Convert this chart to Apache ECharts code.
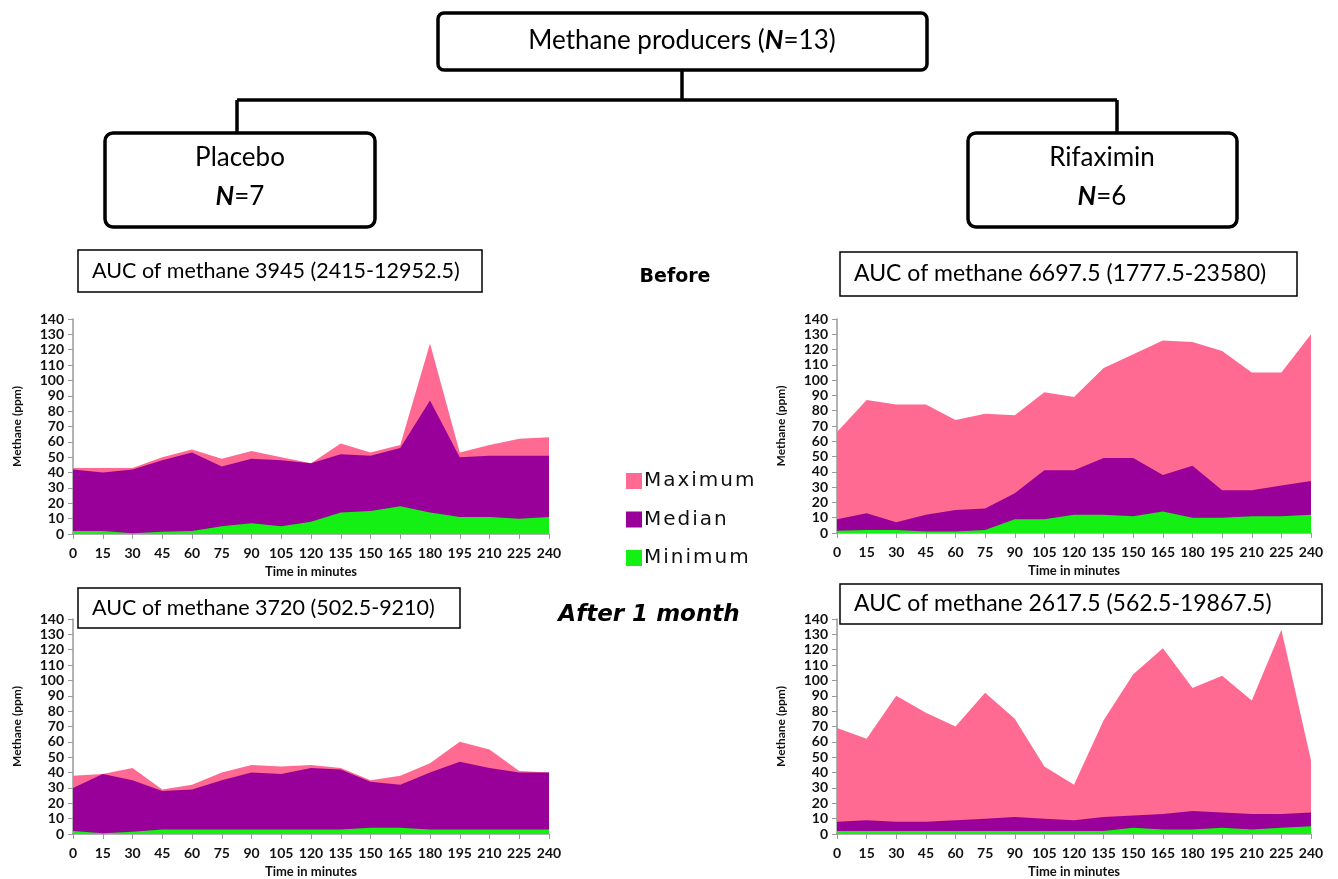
<!DOCTYPE html>
<html>
<head>
<meta charset="utf-8">
<script src="https://cdn.jsdelivr.net/npm/echarts@6/dist/echarts.min.js"></script>
<style>
  html, body { margin: 0; padding: 0; background: #fff; }
  #chart { width: 1338px; height: 879px; }
</style>
</head>
<body>
<div id="chart"></div>
<script>
// Sampling times (minutes) used as category ticks on every panel
const minutes = ['0','15','30','45','60','75','90','105','120','135','150','165','180','195','210','225','240'];

// Placebo, before treatment
const placeboBeforeMax    = [43, 43, 43, 50, 55, 49, 54, 50, 46, 59, 53, 58, 124, 53, 58, 62, 63];
const placeboBeforeMedian = [42, 40, 42, 48, 53, 44, 49, 48, 46, 52, 51, 56, 87, 50, 51, 51, 51];
const placeboBeforeMin    = [2, 2, 0.5, 1.5, 2, 5, 7, 5, 8, 14, 15, 18, 14, 11, 11, 10, 11];

// Rifaximin, before treatment
const rifaximinBeforeMax    = [66, 87, 84, 84, 74, 78, 77, 92, 89, 108, 117, 126, 125, 119, 105, 105, 130];
const rifaximinBeforeMedian = [9, 13, 7, 12, 15, 16, 26, 41, 41, 49, 49, 38, 44, 28, 28, 31, 34];
const rifaximinBeforeMin    = [1.5, 2, 2, 1, 1, 2, 9, 9, 12, 12, 11, 14, 10, 10, 11, 11, 12];

// Placebo, after 1 month
const placeboAfterMax    = [38, 39, 43, 29, 32, 40, 45, 44, 45, 43, 35, 38, 46, 60, 55, 41, 40];
const placeboAfterMedian = [30, 39, 35, 28, 29, 35, 40, 39, 43, 42, 34, 32, 40, 47, 43, 40, 40];
const placeboAfterMin    = [2, 0.5, 1.5, 3, 3, 3, 3, 3, 3, 3, 4, 4, 3, 3, 3, 3, 3];

// Rifaximin, after 1 month
const rifaximinAfterMax    = [69, 62, 90, 79, 70, 92, 75, 44, 32, 74, 104, 121, 95, 103, 87, 133, 48];
const rifaximinAfterMedian = [8, 9, 8, 8, 9, 10, 11, 10, 9, 11, 12, 13, 15, 14, 13, 13, 14];
const rifaximinAfterMin    = [2, 2, 2, 2, 2, 2, 2, 2, 2, 2, 4, 3, 3, 4, 3, 4, 5];

const seriesNames = ['Maximum', 'Median', 'Minimum'];
const aucLabels = [
  'AUC of methane 3945 (2415-12952.5)',
  'AUC of methane 6697.5 (1777.5-23580)',
  'AUC of methane 3720 (502.5-9210)',
  'AUC of methane 2617.5 (562.5-19867.5)'
];

const COLORS = { Maximum: '#ff6a93', Median: '#990099', Minimum: '#14f014' };
const FONT = 'Lato, "Open Sans", sans-serif';
const HAND = '"DejaVu Sans", sans-serif';

const panels = [
  { grid: { left: 73, top: 319, width: 476, height: 215 }, data: [placeboBeforeMax, placeboBeforeMedian, placeboBeforeMin] },
  { grid: { left: 837, top: 319, width: 474, height: 214 }, data: [rifaximinBeforeMax, rifaximinBeforeMedian, rifaximinBeforeMin] },
  { grid: { left: 73, top: 619, width: 476, height: 215 }, data: [placeboAfterMax, placeboAfterMedian, placeboAfterMin] },
  { grid: { left: 837, top: 619, width: 474, height: 215 }, data: [rifaximinAfterMax, rifaximinAfterMedian, rifaximinAfterMin] }
];

const axisLine = { show: true, lineStyle: { color: '#9a9a9a', width: 1.5 } };

const grids = [], xAxes = [], yAxes = [], series = [];
panels.forEach((p, i) => {
  grids.push(Object.assign({ containLabel: false }, p.grid));
  xAxes.push({
    type: 'category', gridIndex: i, data: minutes, boundaryGap: false,
    axisLine: axisLine,
    axisTick: { show: true, alignWithLabel: true, length: 5, lineStyle: { color: '#9a9a9a' } },
    axisLabel: { interval: 0, color: '#111', fontFamily: FONT, fontWeight: 'bold', fontSize: 14, margin: 12 },
    name: 'Time in minutes', nameLocation: 'middle', nameGap: 31,
    nameTextStyle: { color: '#111', fontFamily: FONT, fontWeight: 'bold', fontSize: 13 },
    splitLine: { show: false }
  });
  yAxes.push({
    type: 'value', gridIndex: i, min: 0, max: 140, interval: 10,
    axisLine: axisLine,
    axisTick: { show: true, length: 5, lineStyle: { color: '#9a9a9a' } },
    axisLabel: { color: '#111', fontFamily: FONT, fontWeight: 'bold', fontSize: 14, margin: 9, lineHeight: 14 },
    name: 'Methane (ppm)', nameLocation: 'middle', nameGap: 50, nameRotate: 90,
    nameTextStyle: { color: '#111', fontFamily: FONT, fontWeight: 'bold', fontSize: 12 },
    splitLine: { show: false }
  });
  p.data.forEach((vals, k) => {
    const name = seriesNames[k];
    series.push({
      name: name, type: 'line', xAxisIndex: i, yAxisIndex: i,
      data: vals, symbol: 'none', silent: true,
      lineStyle: { width: 0 },
      itemStyle: { color: COLORS[name] },
      areaStyle: { color: COLORS[name], opacity: 1 },
      z: 2 + k
    });
  });
});

// Flow diagram, panel captions and section labels
const box = (x, y, w, h, r, lw) => ({
  type: 'rect', shape: { x: x, y: y, width: w, height: h, r: r },
  style: { fill: '#fff', stroke: '#000', lineWidth: lw }, z: 10
});
const line = (x1, y1, x2, y2) => ({
  type: 'line', shape: { x1: x1, y1: y1, x2: x2, y2: y2 },
  style: { stroke: '#000', lineWidth: 3.5 }, z: 9
});
const text = (x, y, str, align, font) => ({
  type: 'text', x: x, y: y, z: 11,
  style: { text: str, fill: '#000', font: font || ('26px ' + FONT), align: align || 'center', verticalAlign: 'middle' }
});
const nLabel = (x, y, rest) => ({
  type: 'text', x: x, y: y, z: 11,
  style: {
    text: rest, align: 'center', verticalAlign: 'middle',
    rich: { n: { font: '26px ' + FONT, fill: '#000' }, i: { font: 'italic bold 26px ' + FONT, fill: '#000' } }
  }
});

const graphic = [
  line(682, 70, 682, 100),
  line(237, 100, 1117, 100),
  line(237, 100, 237, 133),
  line(1117, 100, 1117, 133),
  box(438, 13, 489, 57, 6, 3.5),
  box(105, 133, 270, 94, 8, 3.5),
  box(968, 133, 269, 94, 8, 3.5),
  nLabel(682, 41, '{n|Methane producers (}{i|N}{n|=13)}'),
  text(240, 158, 'Placebo'),
  nLabel(240, 197, '{i|N}{n|=7}'),
  text(1102, 158, 'Rifaximin'),
  nLabel(1102, 197, '{i|N}{n|=6}'),
  // AUC captions
  box(78, 250, 404, 42, 0, 1.5),
  text(92, 271, aucLabels[0], 'left', '21.5px ' + FONT),
  box(840, 252, 457, 44, 0, 1.5),
  text(854, 274, aucLabels[1], 'left', '23px ' + FONT),
  box(78, 588, 382, 40, 0, 1.5),
  text(92, 608, aucLabels[2], 'left', '21.5px ' + FONT),
  box(840, 584, 482, 40, 0, 1.5),
  text(854, 604, aucLabels[3], 'left', '23px ' + FONT),
  // Section labels
  text(675, 277, 'Before', 'center', 'bold 19px ' + HAND),
  text(649, 615, 'After 1 month', 'center', 'italic bold 23px ' + HAND)
];

const chart = echarts.init(document.getElementById('chart'), null, { renderer: 'canvas' });
chart.setOption({
  animation: false,
  backgroundColor: '#fff',
  grid: grids,
  xAxis: xAxes,
  yAxis: yAxes,
  series: series,
  legend: {
    data: seriesNames, orient: 'vertical', left: 621, top: 466,
    icon: 'rect', itemWidth: 16, itemHeight: 16, itemGap: 18.5,
    formatter: name => name.split('').join('\u200a'),
    textStyle: { color: '#111', fontFamily: HAND, fontSize: 20, padding: [0, 0, 0, -3] },
    selectedMode: false
  },
  graphic: graphic
});
</script>
</body>
</html>
